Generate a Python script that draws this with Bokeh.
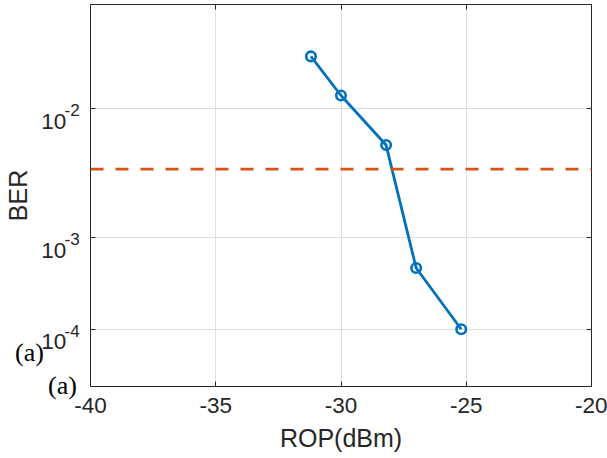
import numpy as np
from bokeh.plotting import figure
from bokeh.models import (Range1d, FixedTicker, LinearAxis, Span,
                          ColumnDataSource, CustomJSTickFormatter)
from bokeh.core.properties import value
from bokeh.embed import file_html
from bokeh.resources import INLINE

# Measured BER versus received optical power
rop_dbm = [-31.2, -30.0, -28.2, -27.0, -25.2]
ber = [2.0e-2, 1.2e-2, 5.7e-3, 5.0e-4, 1.0e-4]
fec_threshold = 3.8e-3

x_ticks = [-40, -35, -30, -25, -20]
x_tick_labels = ["-40", "-35", "-30", "-25", "-20"]
x_limits = (-40, -20)
y_tick_ber = [1e-2, 1e-3, 1e-4]
y_tick_base = ["10", "10", "10"]
y_tick_exponents = ["-2", "-3", "-4"]
ber_limits = (1.63e-5, 3.6e-2)   # (bottom, top)
panel_tags = ["(a)", "(a)"]

AXIS_COLOR = "#262626"
SANS = "Liberation Sans"


def ber_scale(v):
    """BER axis: plotted as log10(-log10(BER)), so larger BER sits higher."""
    return np.log10(-np.log10(np.asarray(v, dtype=float)))


y_ticks = [float(t) for t in ber_scale(y_tick_ber)]
y_bottom = float(ber_scale(ber_limits[0]))

p = figure(width=607, height=458, output_backend="svg", toolbar_location=None,
           x_range=Range1d(*x_limits),
           y_range=Range1d(y_bottom, float(ber_scale(ber_limits[1]))),
           min_border_left=88, min_border_right=16,
           min_border_top=4, min_border_bottom=72,
           background_fill_color="white", border_fill_color="white",
           outline_line_color=AXIS_COLOR, outline_line_width=1)

x_ticker = FixedTicker(ticks=x_ticks)
y_ticker = FixedTicker(ticks=y_ticks)
blank = CustomJSTickFormatter(code="return ''")

# Bottom axis
xa = p.xaxis[0]
xa.ticker = x_ticker
xa.major_label_overrides = dict(zip(x_ticks, x_tick_labels))
xa.axis_line_color = None
xa.major_tick_in = 5
xa.major_tick_out = 0
xa.major_tick_line_color = AXIS_COLOR
xa.minor_tick_line_color = None
xa.major_label_standoff = 11
xa.major_label_text_font = SANS
xa.major_label_text_font_size = "22.5px"
xa.major_label_text_color = AXIS_COLOR
xa.axis_label = "ROP(dBm)"
xa.axis_label_text_font = SANS
xa.axis_label_text_font_size = "25px"
xa.axis_label_text_font_style = "normal"
xa.axis_label_text_color = AXIS_COLOR
xa.axis_label_standoff = 8

# Left axis: tick text drawn below as 10 with a raised exponent
ya = p.yaxis[0]
ya.ticker = y_ticker
ya.formatter = blank
ya.axis_line_color = None
ya.major_tick_in = 5
ya.major_tick_out = 0
ya.major_tick_line_color = AXIS_COLOR
ya.minor_tick_line_color = None
ya.major_label_standoff = 0
ya.axis_label = "BER"
ya.axis_label_text_font = SANS
ya.axis_label_text_font_size = "25px"
ya.axis_label_text_font_style = "normal"
ya.axis_label_text_color = AXIS_COLOR
ya.axis_label_standoff = 59

# Box ticks on the top and right edges (no tick text)
for ticker, side in ((x_ticker, "above"), (y_ticker, "right")):
    ax = LinearAxis(ticker=ticker, formatter=blank, axis_line_color=None,
                    major_tick_in=5, major_tick_out=0,
                    major_tick_line_color=AXIS_COLOR,
                    minor_tick_line_color=None,
                    major_label_standoff=0)
    p.add_layout(ax, side)

# Grid
p.xgrid.ticker = x_ticker
p.ygrid.ticker = y_ticker
p.xgrid.grid_line_color = "#e0e0e0"
p.ygrid.grid_line_color = "#e0e0e0"

# Y tick labels: powers of ten, placed left of the frame
ytl = ColumnDataSource(dict(x=[x_limits[0]] * len(y_ticks), y=y_ticks,
                            base=y_tick_base, expo=y_tick_exponents))
p.text(x="x", y="y", text="base", source=ytl, x_offset=-24.2, y_offset=12.7,
       text_align="right", text_baseline="alphabetic",
       text_font=value(SANS), text_font_size="22.5px",
       text_color=AXIS_COLOR, level="overlay")
p.text(x="x", y="y", text="expo", source=ytl, x_offset=-25.9, y_offset=1.7,
       text_align="left", text_baseline="alphabetic",
       text_font=value(SANS), text_font_size="17px",
       text_color=AXIS_COLOR, level="overlay")

# Panel tags
tags = ColumnDataSource(dict(x=[x_limits[0]] * 2, y=[y_bottom] * 2,
                             text=panel_tags, dx=[-75.5, -42.5],
                             dy=[-34.5, -1.0]))
p.text(x="x", y="y", text="text", source=tags, x_offset="dx", y_offset="dy",
       text_align="left", text_baseline="alphabetic",
       text_font=value("Liberation Serif"), text_font_size="26px",
       text_color="black", level="overlay")

# BER curve
src = ColumnDataSource(dict(rop=rop_dbm, y=ber_scale(ber)))
p.line("rop", "y", source=src, line_color="#0072BD", line_width=2.8)
p.scatter("rop", "y", source=src, marker="circle", size=9.5,
          line_color="#0072BD", line_width=2.6, fill_color=None)

# FEC threshold
p.add_layout(Span(location=float(ber_scale(fec_threshold)), dimension="width",
                  line_color="#D95319", line_width=2.7, line_dash="13 12"))

open("out.html", "w").write(file_html(p, INLINE))
